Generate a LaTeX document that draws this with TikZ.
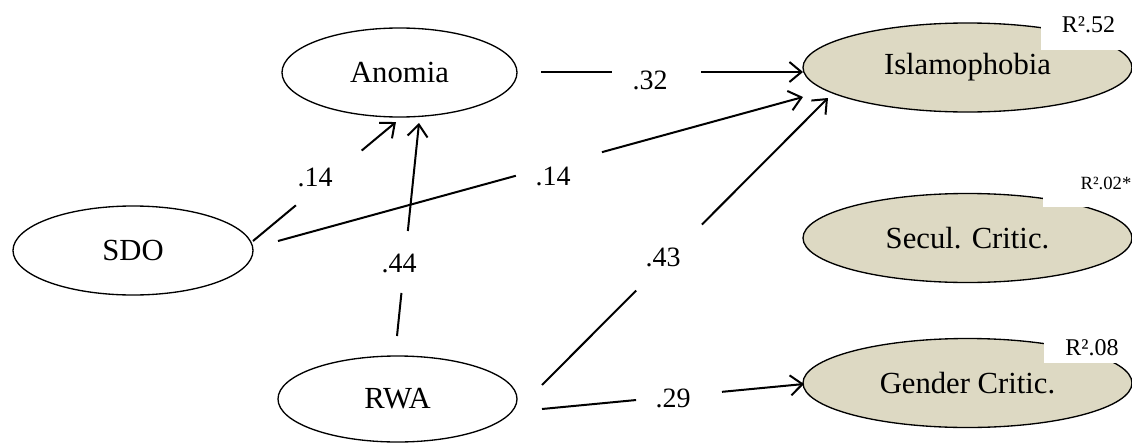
\documentclass[tikz,border=0pt]{standalone}
\usepackage{fontspec}
\setmainfont{Liberation Serif}
\usetikzlibrary{arrows.meta,calc,shapes.geometric}
\definecolor{beige}{RGB}{221,217,195}
\begin{document}
\begin{tikzpicture}[x=0.75pt,y=-0.75pt,
  lat/.style={ellipse, draw, line width=1pt, inner sep=0pt, font=\fontsize{23}{27}\selectfont},
  endo/.style={lat, fill=beige, minimum width=246.75pt, minimum height=66.75pt},
  conn/.style={line width=1.5pt},
  arr/.style={conn, -{Straight Barb[length=9pt,width=15pt]}},
  coef/.style={font=\fontsize{21}{25}\selectfont, inner sep=0pt},
  rsq/.style={font=\fontsize{18}{22}\selectfont, inner sep=0pt},
  mask/.style={fill=white}]
\useasboundingbox (0,0) rectangle (1132,443);
% latent variables
\node[lat, minimum width=176.25pt, minimum height=66.75pt] (anomia) at (399.5,72.5) {Anomia};
\node[lat, minimum width=180pt, minimum height=66.75pt] (sdo) at (133,250.5) {SDO};
\node[lat, minimum width=179.25pt, minimum height=64.5pt] (rwa) at (397.5,399) {RWA};
\node[endo] (islam) at (967.5,67.5) {Islamophobia};
\node[endo] (secul) at (967.5,238) {Secul. Critic.};
\node[endo] (gender) at (967.5,383) {Gender Critic.};
% connector end points
\coordinate (aS) at ($(sdo)+(120,-9.5)$);     \coordinate (aE) at ($(anomia)+(-3.5,49.5)$);
\coordinate (bS) at ($(sdo)+(145,-9.5)$);     \coordinate (bE) at ($(islam)+(-164.5,29.5)$);
\coordinate (cS) at ($(rwa)+(-0.5,-63)$);     \coordinate (cE) at ($(anomia)+(19.5,50.5)$);
\coordinate (dS) at ($(rwa)+(144.5,-14)$);    \coordinate (dE) at ($(islam)+(-139.5,30.5)$);
\coordinate (eS) at ($(rwa)+(144.5,10)$);     \coordinate (eE) at ($(gender)+(-163.5,1)$);
\coordinate (fS) at ($(anomia)+(141.5,-0.5)$); \coordinate (fE) at ($(islam)+(-164.5,4.5)$);
% SDO -> Anomia
\draw[conn] (aS) -- ($(aS)!0.30!(aE)$);
\draw[arr] ($(aS)!0.76!(aE)$) -- (aE);
\node[coef] (la) at (315,177) {.14};
% SDO -> Islamophobia
\draw[conn] (bS) -- ($(bS)!0.453!(bE)$);
\draw[arr] ($(bS)!0.617!(bE)$) -- (bE);
\node[coef] (lb) at (553,176) {.14};
% RWA -> Anomia
\draw[conn] (cS) -- ($(cS)!0.202!(cE)$);
\draw[arr] ($(cS)!0.493!(cE)$) -- (cE);
\node[coef] (lc) at (399,263) {.44};
% RWA -> Islamophobia
\draw[conn] (dS) -- ($(dS)!0.329!(dE)$);
\draw[arr] ($(dS)!0.559!(dE)$) -- (dE);
\node[coef] (ld) at (663,257) {.43};
% RWA -> Gender Critic.
\draw[conn] (eS) -- ($(eS)!0.359!(eE)$);
\draw[arr] ($(eS)!0.687!(eE)$) -- (eE);
\node[coef] (le) at (673,398) {.29};
% Anomia -> Islamophobia
\draw[conn] (fS) -- ($(fS)!0.271!(fE)$);
\draw[arr] ($(fS)!0.611!(fE)$) -- (fE);
\node[coef] (lf) at (650,80) {.32};
% R squared labels
\fill[mask] (1041,0) rectangle (1132,50);
\node[rsq] (r1) at (1088.5,25) {R².52};
\fill[mask] (1043,163) rectangle (1132,207);
\node[rsq, font=\fontsize{14}{17}\selectfont] (r2) at (1106,183) {R².02*};
\fill[mask] (1044,328) rectangle (1132,363);
\node[rsq] (r3) at (1092,348) {R².08};
\end{tikzpicture}
\end{document}
